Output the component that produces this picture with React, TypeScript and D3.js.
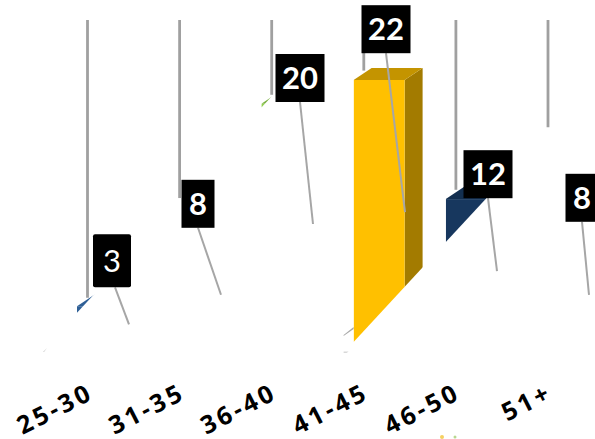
import React from "react";
import * as d3 from "d3";

const categories = ["25-30", "31-35", "36-40", "41-45", "46-50", "51+"];
const values = [3, 8, 20, 22, 12, 8];
const barColors = ["#2e5f96", "#ffffff", "#92d050", "#ffc000", "#17375e", "#ffffff"];
const sideColors = ["#1f4068", "#ffffff", "#6a9a38", "#a37b00", "#0f2540", "#ffffff"];
const topColors = ["#2e5f96", "#ffffff", "#7ab040", "#c49400", "#132f50", "#ffffff"];
const cutValues = [2.45, 8, 19.7, 0, 8.4, 8];
const stemReach = [7.5, 24.4, 41.9, 46, 25.8, 36.4];
const boldLabel = [false, true, true, true, true, true];
const labelDx = [-14, -23, -13, -19, -9, -7];
const labelDy = [-37, -67, -122, -159, -73, -73];
const labelW = [38, 33, 49, 49, 49, 33];
const labelH = [53, 48, 48, 48, 48, 48];

const W = 595, H = 439;
const barW = 51, depthX = 18, depthY = 12, slope = 1.08;

const idx = categories.map((_, i) => i);
const xBar = d3.scaleLinear().domain([0, 5]).range([77, 538]);
const yBar = d3.scaleLinear().domain([0, 22]).range([342, 80]);
const xLead = d3.scaleLinear().domain([0, 5]).range([129, 589]);
const yLead = d3.scaleLinear().domain([0, 22]).range([342, 212.2]);
const xStem = d3.scaleLinear().domain([0, 5]).range([87.5, 548]);
const xTick = d3.scaleLinear().domain([0, 5]).range([95, 554]);

const poly = (p: number[][]) => d3.line()(p as [number, number][]) + "Z";

export default function App() {
  return (
    <svg width={W} height={H} viewBox={`0 0 ${W} ${H}`}
      style={{ position: "absolute", left: 0, top: 0, background: "#fff" }}>
      <defs>
        {idx.map(i => {
          const x = xBar(i), yc = yBar(cutValues[i]);
          const r = x + barW + depthX + 2;
          return <clipPath id={`cut${i}`} key={i}>
            <path d={poly([[x, 0], [r, 0], [r, yc - (r - x) * slope], [x, yc]])} />
          </clipPath>;
        })}
      </defs>

      {idx.map(i => (
        <line key={i} x1={xStem(i)} x2={xStem(i)} y1={20} y2={yLead(stemReach[i])}
          stroke="#a0a0a0" strokeWidth={2.8} />
      ))}

      <path d={poly([[xBar(3) - 10, 335], [xBar(3), 327], [xBar(3), 329], [xBar(3) - 10, 336]])} fill="#a8a8a8" />
      <path d={poly([[xBar(3) - 10, 351.5], [xBar(3) - 5, 351.5], [xBar(3) - 7, 353], [xBar(3) - 10, 353]])} fill="#d8d8d8" />
      <path d={poly([[xBar(0) - 34, 352], [xBar(0) - 30, 348], [xBar(0) - 33, 352]])} fill="#c8c8c8" />

      {idx.map(i => {
        const x = xBar(i), y = yBar(values[i]), y0 = yBar(0);
        return <g key={i} clipPath={`url(#cut${i})`}>
          <path d={poly([[x + barW, y], [x + barW + depthX, y - depthY], [x + barW + depthX, y0], [x + barW, y0]])} fill={sideColors[i]} />
          <path d={poly([[x, y], [x + depthX, y - depthY], [x + barW + depthX, y - depthY], [x + barW, y]])} fill={topColors[i]} />
          <rect x={x} y={y} width={barW} height={y0 - y} fill={barColors[i]} />
        </g>;
      })}

      {idx.map(i => {
        const ax = xLead(i), ay = yLead(values[i]);
        const bx = ax + labelDx[i], by = ay + labelDy[i];
        return <line key={i} x1={bx} y1={by} x2={ax} y2={ay} stroke="#a6a6a6" strokeWidth={2} />;
      })}

      {idx.map(i => {
        const cx = xLead(i) + labelDx[i] - (i === 0 ? 3 : 0);
        const by = yLead(values[i]) + labelDy[i];
        const w = labelW[i], h = labelH[i];
        return <g key={i}>
          <rect x={cx - w / 2} y={by - h} width={w} height={h} rx={i === 0 ? 2 : 0} fill="#000" />
          <text x={cx} y={by - h / 2} dy="0.36em" textAnchor="middle" fill="#fff"
            fontFamily="Lato, 'Open Sans', sans-serif" fontSize={31}
            fontWeight={boldLabel[i] ? 700 : 400}>{values[i]}</text>
        </g>;
      })}

      {idx.map(i => (
        <text key={i} transform={`translate(${xTick(i)},${398}) rotate(-27)`}
          textAnchor="end" fill="#000" fontFamily="'Open Sans', sans-serif"
          fontSize={25} fontWeight={700} letterSpacing={3.2}>{categories[i]}</text>
      ))}

      <circle cx={442} cy={437} r={2} fill="#f5d060" />
      <circle cx={455} cy={437} r={1.5} fill="#b8d890" />
    </svg>
  );
}
